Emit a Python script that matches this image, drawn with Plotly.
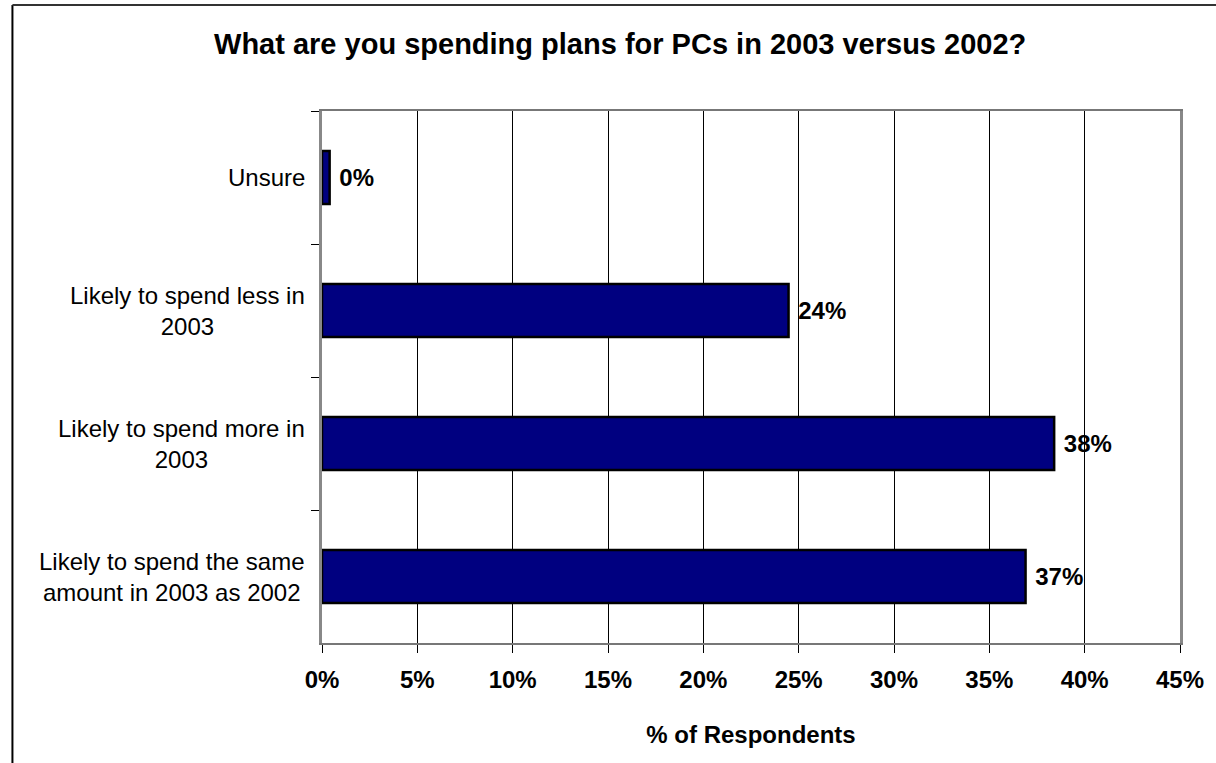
import plotly.graph_objects as go

# Survey responses, listed top to bottom as shown on the chart
categories = [
    "Unsure",
    "Likely to spend less in<br>2003",
    "Likely to spend more in<br>2003",
    "Likely to spend the same<br>amount in 2003 as 2002",
]
shares = [0.004, 0.2447, 0.384, 0.369]

x_ticks = [0.0, 0.05, 0.10, 0.15, 0.20, 0.25, 0.30, 0.35, 0.40, 0.45]

FONT = "Liberation Sans, Arial, sans-serif"
NAVY = "#000080"

fig = go.Figure()
fig.add_trace(go.Bar(
    x=shares,
    y=categories,
    orientation="h",
    width=0.4,
    marker=dict(color=NAVY, line=dict(color="black", width=2.5)),
    texttemplate=" %{x:.0%}",
    textposition="outside",
    constraintext="none",
    cliponaxis=False,
    textfont=dict(family=FONT, size=24, color="black", weight="bold"),
    hoverinfo="skip",
))

# Category labels drawn as centred multi-line text to the left of the axis
for cat in categories:
    fig.add_annotation(
        x=0, xref="paper", y=cat, yref="y",
        xanchor="right", yanchor="middle", xshift=-15,
        text=cat, align="center", showarrow=False,
        font=dict(family=FONT, size=24, color="black"),
    )

# Outer chart frame (left and top edges)
fig.add_shape(type="line", xref="paper", yref="paper",
              x0=-0.3608, x1=-0.3608, y0=1.1992, y1=-0.5,
              line=dict(color="black", width=2))
fig.add_shape(type="line", xref="paper", yref="paper",
              x0=-0.3608, x1=1.2, y0=1.1992, y1=1.1992,
              line=dict(color="#333333", width=2))

fig.update_layout(
    width=1216, height=763,
    margin=dict(l=322, r=32, t=111, b=120),
    paper_bgcolor="white", plot_bgcolor="white",
    showlegend=False,
    font=dict(family=FONT, color="black"),
    title=dict(
        text="What are you spending plans for PCs in 2003 versus 2002?",
        font=dict(family=FONT, size=29, color="black", weight="bold"),
        xref="container", x=0.51, xanchor="center",
        yref="container", y=0.942, yanchor="middle",
    ),
    xaxis=dict(
        range=[0, 0.45], tickvals=x_ticks, tickformat=".0%",
        showgrid=True, gridcolor="black", gridwidth=1,
        showline=True, linecolor="#777777", linewidth=2, mirror=True,
        ticks="outside", ticklen=8, tickcolor="black", tickwidth=1,
        ticklabelstandoff=6,
        tickfont=dict(family=FONT, size=24, color="black", weight="bold"),
        zeroline=False,
        title=dict(text="% of Respondents", standoff=34,
                   font=dict(family=FONT, size=24, color="black", weight="bold")),
    ),
    yaxis=dict(
        type="category", categoryorder="array", categoryarray=categories,
        autorange="reversed",
        showticklabels=False, showgrid=False,
        showline=True, linecolor="#888888", linewidth=2.5, mirror=True,
        ticks="outside", ticklen=8, tickcolor="black", tickwidth=1,
        tickson="boundaries",
    ),
)

fig.write_html("out.html")
